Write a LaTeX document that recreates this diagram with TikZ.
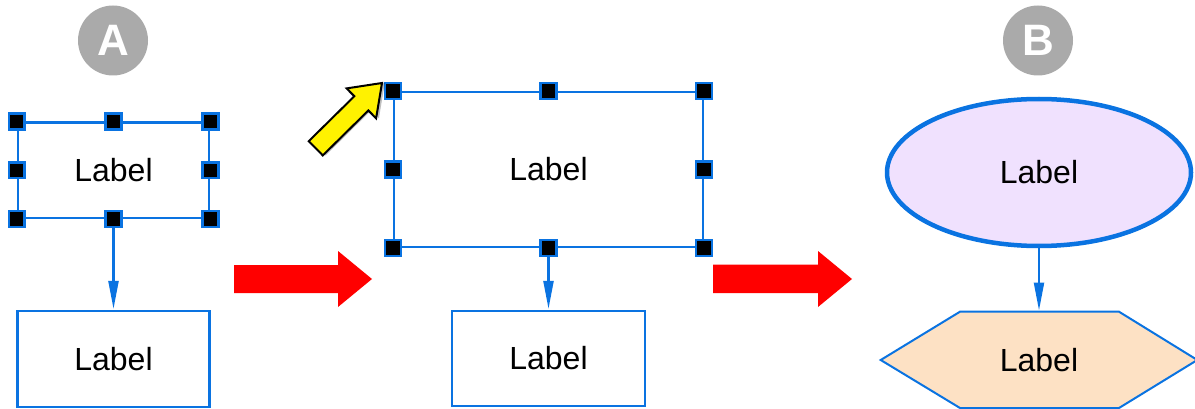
\documentclass[tikz,border=0pt]{standalone}
\usepackage{fontspec}
\setmainfont{Liberation Sans}
\usetikzlibrary{arrows.meta,shapes.geometric}
\definecolor{selblue}{RGB}{10,115,225}
\definecolor{badge}{RGB}{170,170,170}
\definecolor{lavender}{RGB}{240,225,254}
\definecolor{peach}{RGB}{253,225,196}
\tikzset{
  box/.style={draw=selblue,line width=2.2pt,fill=white,rectangle,inner sep=0pt,
    font=\fontsize{32}{36}\selectfont},
  handle/.style={draw=selblue,fill=black,line width=2.5pt,rectangle,
    minimum size=15.8pt,inner sep=0pt},
  conn/.style={draw=selblue,line width=2.2pt,-{Triangle[length=28pt,width=10pt]},shorten >=1pt},
  badgenode/.style={circle,fill=badge,minimum size=70pt,inner sep=0pt,text=white,
    font=\fontsize{44}{44}\selectfont\bfseries},
  bigarrow/.style={fill=red,draw=none},
  pointer/.style={fill=yellow,draw=black,line width=2pt,line join=miter}
}
\begin{document}
\begin{tikzpicture}[x=1pt,y=-1pt]
\useasboundingbox (0,0) rectangle (1195,409);
% badges
\node[badgenode] (A) at (113,40.5) {A};
\node[badgenode] (B) at (1038,40.5) {B};
% panel A
\node[box,minimum width=191.5pt,minimum height=95.5pt] (b1) at (113.5,170.25) {Label};
\node[box,minimum width=192pt,minimum height=96pt] (b2) at (113.5,359) {Label};
\draw[conn] (b1.south) -- (b2.north);
\foreach \a in {north west,north,north east,west,east,south west,south,south east}
  \node[handle] (h1-\a) at (b1.\a) {};
% red arrow 1
\path[bigarrow] (234,265) -- (338,265) -- (338,251) -- (372,279) -- (338,307) -- (338,293) -- (234,293) -- cycle;
% panel middle
\node[box,minimum width=309pt,minimum height=155pt] (b3) at (548.5,169.5) {Label};
\node[box,minimum width=193pt,minimum height=95pt] (b4) at (548.5,358.5) {Label};
\draw[conn] (b3.south) -- (b4.north);
\foreach \a in {north west,north,north east,west,east,south west,south,south east}
  \node[handle] (h3-\a) at (b3.\a) {};
% yellow pointer
\begin{scope}[shift={(382,83)},rotate=44.6]
  \fill[black,opacity=0.25] (-91,-8) -- (-27,-8) -- (-27,-19) -- (2,2) -- (-27,23) -- (-27,12) -- (-91,12) -- cycle;
  \path[pointer] (-93,-10) -- (-29,-10) -- (-29,-21) -- (0,0) -- (-29,21) -- (-29,10) -- (-93,10) -- cycle;
\end{scope}
% red arrow 2
\path[bigarrow] (713,264.5) -- (818,264.5) -- (818,251) -- (852,279) -- (818,307) -- (818,293) -- (713,293) -- cycle;
% panel B
\node[ellipse,draw=selblue,line width=4.5pt,fill=lavender,minimum width=304pt,minimum height=147pt,
  inner sep=0pt,font=\fontsize{32}{36}\selectfont] (e) at (1039,172.5) {Label};
\path[draw=selblue,line width=2pt,fill=peach] (880.7,360) -- (960,311.7) -- (1119,311.7) -- (1197.3,360) -- (1119,408) -- (960,408) -- cycle;
\node[font=\fontsize{32}{36}\selectfont,minimum width=158pt,minimum height=96.3pt,inner sep=0pt] (hx) at (1039,359.85) {Label};
\draw[conn] (e.south) -- (hx.north);
\end{tikzpicture}
\end{document}
